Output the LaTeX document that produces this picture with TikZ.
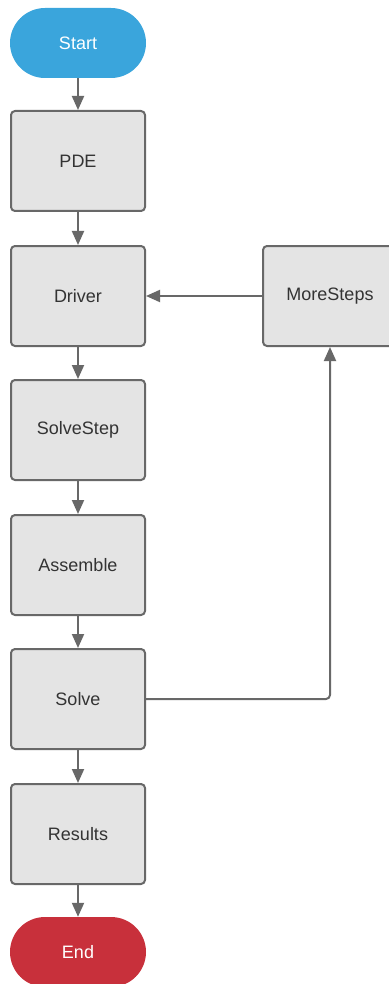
\documentclass[tikz,border=0pt]{standalone}
\usepackage{fontspec}
\setmainfont{Liberation Sans}
\usetikzlibrary{arrows.meta}
\definecolor{startblue}{HTML}{3AA5DC}
\definecolor{endred}{HTML}{C8303B}
\definecolor{boxfill}{HTML}{E4E4E4}
\definecolor{boxline}{HTML}{686868}
\definecolor{boxtext}{HTML}{333333}

\begin{document}
\begin{tikzpicture}[x=1pt, y=-1pt,
    every node/.style={font=\fontsize{18}{21}\selectfont},
    stepbox/.style={draw=boxline, fill=boxfill, text=boxtext, line width=2pt,
      rounded corners=4pt, minimum width=134pt, minimum height=100pt, inner sep=0pt},
    terminal/.style={text=white, rounded corners=35pt,
      minimum width=136pt, minimum height=70pt, inner sep=0pt},
    flow/.style={draw=boxline, line width=2pt, -{Triangle[length=14pt, width=12pt]}}]

    \useasboundingbox (0,0) rectangle (388,984);

    \node[terminal, fill=startblue] (start) at (78,43) {Start};
    \node[stepbox] (pde) at (78,161) {PDE};
    \node[stepbox] (driver) at (78,296) {Driver};
    \node[stepbox] (solvestep) at (78,430) {SolveStep};
    \node[stepbox] (assemble) at (78,565) {Assemble};
    \node[stepbox] (solve) at (78,699) {Solve};
    \node[stepbox] (results) at (78,834) {Results};
    \node[terminal, fill=endred] (end) at (78,952) {End};
    \node[stepbox] (moresteps) at (330,296) {MoreSteps};

    \draw[flow] (start) -- (pde);
    \draw[flow] (pde) -- (driver);
    \draw[flow] (driver) -- (solvestep);
    \draw[flow] (solvestep) -- (assemble);
    \draw[flow] (assemble) -- (solve);
    \draw[flow] (solve) -- (results);
    \draw[flow] (results) -- (end);
    \draw[flow] (moresteps) -- (driver);
    \draw[flow, rounded corners=4pt] (solve.east) -| (moresteps.south);

\end{tikzpicture}
\end{document}
